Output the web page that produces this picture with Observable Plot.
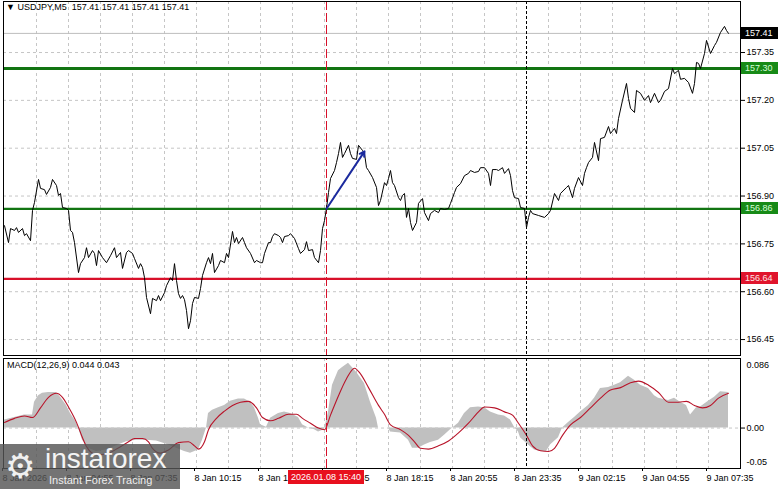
<!DOCTYPE html>
<html><head><meta charset="utf-8">
<script src="https://cdn.jsdelivr.net/npm/d3@7"></script>
<script src="https://cdn.jsdelivr.net/npm/@observablehq/plot@0.6"></script>
<style>
body{margin:0;background:#fff;}
#wrap{position:relative;width:781px;height:489px;overflow:hidden;background:#fff;font-family:"Liberation Sans",Arial,sans-serif;}
#wrap svg{position:absolute;left:0;}
.hdr{position:absolute;font-size:9px;color:#000;white-space:pre;}
#wm{position:absolute;left:0;top:444px;width:180px;height:45px;background:rgba(85,85,85,0.82);color:#fff;}
#wm .gear{position:absolute;left:5px;top:2px;font-family:"DejaVu Sans";font-size:34px;line-height:40px;color:#f0f0f0;}
#wm .big{position:absolute;left:45px;top:0px;font-size:28px;line-height:30px;color:#f4f4f4;}
#wm .small{position:absolute;left:49px;top:30px;font-size:11px;line-height:13px;color:#eee;}
</style></head>
<body>
<div id="wrap">
  <div id="wm"><span class="gear">⚙</span><span class="big">instaforex</span><span class="small">Instant Forex Tracing</span></div>
</div>
<script>
// ---------- data ----------
const symbolTitle = "USDJPY,M5";
const lastQuote = [157.41, 157.41, 157.41, 157.41];
const macdTitle = "MACD(12,26,9)";
const macdLast = [0.044, 0.043];

// bar index: 5-minute bars, bar 0 = 8 Jan 02:15
const priceBar = [0,2,3,5,6,7,9,10,11,13,14,15,17,18,20,21,23,24,26,27,28,29,31,32,33,34,35,37,38,40,41,42,44,45,46,47,49,51,53,55,56,58,59,61,62,64,65,67,68,69,70,71,73,74,76,77,78,80,81,83,84,85,86,87,88,89,90,91,92,93,94,95,97,98,99,101,102,103,104,105,107,108,110,111,112,114,115,116,117,119,120,121,123,125,126,128,129,130,132,133,134,135,137,138,139,140,142,143,145,147,148,150,151,152,154,155,157,158,159,160,161,162,163,165,166,167,168,169,170,172,173,174,176,177,179,180,181,182,184,186,187,188,190,191,192,193,194,195,197,198,199,200,201,202,203,204,206,207,209,210,212,213,215,217,218,220,222,223,225,226,228,230,232,233,235,237,238,240,242,243,244,246,247,249,250,252,253,254,255,257,258,260,261,262,263,264,267,270,272,273,275,277,278,281,282,284,285,287,289,290,291,292,294,295,297,298,300,302,303,305,306,307,309,311,312,313,315,316,318,320,322,323,325,327,328,330,332,334,335,337,338,340,342,344,345,346,347,348,350,351,353,355,356,358,360,361,362];
const priceClose = [156.807,156.754,156.798,156.792,156.801,156.786,156.798,156.776,156.782,156.760,156.855,156.880,156.952,156.924,156.920,156.905,156.927,156.952,156.933,156.902,156.908,156.864,156.861,156.855,156.792,156.786,156.754,156.660,156.688,156.707,156.738,156.707,156.729,156.720,156.682,156.729,156.707,156.691,156.713,156.738,156.707,156.723,156.673,156.723,156.729,156.720,156.704,156.673,156.688,156.676,156.644,156.582,156.531,156.579,156.572,156.588,156.572,156.597,156.619,156.644,156.635,156.688,156.635,156.594,156.579,156.588,156.575,156.541,156.484,156.509,156.563,156.582,156.579,156.610,156.651,156.691,156.707,156.688,156.720,156.660,156.682,156.698,156.691,156.720,156.707,156.789,156.754,156.770,156.751,156.770,156.754,156.738,156.720,156.691,156.698,156.691,156.691,156.720,156.754,156.754,156.773,156.782,156.776,156.770,156.754,156.773,156.776,156.782,156.767,156.735,156.720,156.732,156.757,156.729,156.732,156.707,156.691,156.729,156.798,156.823,156.862,156.911,156.955,156.980,157.005,157.033,157.068,157.021,157.033,157.059,157.033,157.018,157.015,157.059,157.043,157.033,156.989,156.980,156.958,156.927,156.870,156.886,156.942,156.933,156.955,156.980,156.942,156.933,156.895,156.886,156.902,156.908,156.833,156.861,156.817,156.792,156.817,156.877,156.892,156.848,156.823,156.845,156.855,156.848,156.861,156.858,156.861,156.877,156.911,156.927,156.939,156.964,156.971,156.980,156.974,156.977,156.989,156.989,156.971,156.933,156.983,156.983,156.980,156.989,156.971,156.986,156.964,156.917,156.895,156.892,156.864,156.861,156.801,156.833,156.855,156.845,156.839,156.833,156.845,156.855,156.908,156.886,156.908,156.927,156.933,156.895,156.924,156.958,156.933,156.971,156.989,157.005,157.021,157.068,157.011,157.080,157.084,157.118,157.096,157.112,157.096,157.143,157.200,157.253,157.206,157.175,157.162,157.231,157.222,157.200,157.215,157.193,157.222,157.193,157.200,157.228,157.237,157.300,157.284,157.294,157.266,157.269,157.256,157.222,157.253,157.319,157.316,157.300,157.347,157.388,157.347,157.372,157.382,157.413,157.432,157.419,157.410];

const macdBar = [0,5,10,14,15,17,19,22,26,28,31,33,36,37,39,42,46,51,56,61,66,71,76,81,86,90,93,97,99,101,102,104,107,110,113,117,120,123,125,127,128,131,133,137,140,143,147,149,152,155,157,160,162,164,167,169,172,176,180,183,186,187,192,193,198,202,204,207,210,213,217,220,223,227,230,233,237,240,243,247,250,253,255,257,258,262,265,268,271,273,277,279,282,285,288,292,295,298,302,305,308,312,315,318,322,325,327,332,335,338,341,343,346,348,352,355,358,362];
const macdMain = [0.010,0.013,0.016,0.016,0.032,0.040,0.043,0.044,0.044,0.038,0.028,0.018,0.007,0,-0.015,-0.025,-0.029,-0.027,-0.022,-0.017,-0.015,-0.015,-0.016,-0.020,-0.025,-0.029,-0.031,-0.027,-0.015,0,0.018,0.022,0.025,0.028,0.033,0.036,0.036,0.032,0.025,0.012,0.004,0.001,0.012,0.018,0.020,0.018,0.013,0.004,0,-0.002,-0.005,-0.002,0.020,0.053,0.071,0.075,0.080,0.069,0.055,0.032,0.012,0,0,-0.005,-0.006,-0.015,-0.025,-0.025,-0.021,-0.018,-0.015,-0.009,-0.002,0.006,0.018,0.025,0.026,0.025,0.020,0.016,0.015,0.010,0.001,-0.005,-0.012,-0.021,-0.027,-0.029,-0.029,-0.021,-0.012,0,0.007,0.013,0.020,0.028,0.037,0.049,0.050,0.053,0.056,0.064,0.059,0.053,0.049,0.040,0.037,0.034,0.037,0.032,0.028,0.016,0.025,0.026,0.033,0.038,0.045,0.044];

const signalBar = [0,5,10,14,18,22,26,29,32,36,39,41,46,51,56,62,65,69,72,74,78,82,87,92,95,97,100,102,106,110,114,118,122,126,129,133,137,142,146,149,153,157,160,163,167,171,175,178,182,187,190,193,198,202,205,208,212,217,222,227,232,237,240,245,250,254,257,261,264,268,272,275,279,283,288,293,298,303,308,313,317,322,327,332,337,341,345,349,353,357,362];
const signalLine = [0.007,0.012,0.015,0.013,0.025,0.038,0.043,0.038,0.026,0.007,-0.012,-0.023,-0.033,-0.032,-0.026,-0.017,-0.013,-0.013,-0.017,-0.025,-0.031,-0.027,-0.018,-0.017,-0.022,-0.026,-0.017,-0.002,0.012,0.021,0.028,0.032,0.033,0.025,0.013,0.009,0.012,0.017,0.017,0.012,0.006,0,-0.002,0.016,0.040,0.061,0.074,0.067,0.050,0.028,0.017,0.004,-0.002,-0.009,-0.017,-0.025,-0.026,-0.022,-0.016,-0.006,0.006,0.020,0.026,0.025,0.020,0.016,0.006,-0.009,-0.022,-0.028,-0.029,-0.025,-0.009,0.004,0.013,0.025,0.037,0.047,0.050,0.056,0.058,0.053,0.044,0.032,0.032,0.033,0.028,0.025,0.028,0.037,0.043];

const xTickBars = [0,32,64,96,128,160,192,224,256,288,320,352];
const xTickLabels = ["8 Jan 2026","8 Jan 04:55","8 Jan 07:35","8 Jan 10:15","8 Jan 12:55","8 Jan 15:35","8 Jan 18:15","8 Jan 20:55","8 Jan 23:35","9 Jan 02:15","9 Jan 04:55","9 Jan 07:35"];
const gridBars = [16,32,48,64,80,96,112,128,144,160,176,192,208,224,240,256,272,288,304,320,336,352];
const priceTicks = [156.45,156.60,156.75,156.90,157.05,157.20,157.35];
const macdTicks = [0.086, 0.00, -0.05];

const currentPrice = 157.41;
const levelPrices = [157.30, 156.86, 156.64];
const levelKinds = ["buy", "buy", "sell"];
const entryBar = 161;            // 8 Jan 15:40
const entryLabel = "2026.01.08 15:40";
const dayBar = 261;              // 9 Jan 00:00
const signalArrowBar = [161, 180];
const signalArrowPrice = [156.86, 157.04];

// ---------- styles ----------
const GREEN = "#127412", RED = "#d8102a", GRID = "#c6c6c6";
const kindColor = {buy: GREEN, sell: RED};
const tagBg = {buy: "#178a17", sell: "#e0142c"};
const FONT = "Liberation Sans, Arial, sans-serif";
const W = 781, ML = 3, MR = 41;
const xDomain = [-0.5, 368];

const wrap = document.getElementById("wrap");

const tagMark = (tags) => (index, scales, values, dims) => {
  const g = d3.create("svg:g").attr("font-size", 9).attr("font-family", FONT).attr("text-anchor", "start");
  const x0 = dims.width - dims.marginRight + 1;
  for (const t of tags) {
    const y = Math.round(scales.y(t.value));
    g.append("rect").attr("x", x0).attr("y", y - 6).attr("width", 37).attr("height", 12).attr("fill", t.bg);
    g.append("text").attr("x", x0 + 4).attr("y", y).attr("dy", "0.36em").attr("text-anchor", "start").attr("fill", t.fg).text(t.label);
  }
  return g.node();
};

const tags = [
  {value: currentPrice, label: currentPrice.toFixed(2), bg: "#000", fg: "#fff"},
  ...levelPrices.map((p, i) => ({value: p, label: p.toFixed(2), bg: tagBg[levelKinds[i]], fg: levelKinds[i] === "buy" ? "#d8ffd8" : "#ffe4e4"}))
];

const priceData = priceBar.map((b, i) => ({bar: b, close: priceClose[i]}));

const main = Plot.plot({
  width: W, height: 357,
  marginLeft: ML, marginRight: MR, marginTop: 1, marginBottom: 2,
  style: {fontFamily: FONT, fontSize: "9px", background: "transparent", overflow: "visible"},
  x: {domain: xDomain, axis: null},
  y: {domain: [156.40, 157.510], axis: null},
  marks: [
    Plot.ruleX(gridBars, {stroke: GRID, strokeDasharray: "3,3"}),
    Plot.ruleY(priceTicks, {stroke: GRID, strokeDasharray: "3,3"}),
    Plot.ruleY([currentPrice], {stroke: "#bdbdbd"}),
    Plot.ruleY([levelPrices[0]], {stroke: kindColor[levelKinds[0]], strokeWidth: 3}),
    Plot.ruleY([levelPrices[1]], {stroke: kindColor[levelKinds[1]], strokeWidth: 2.2}),
    Plot.ruleY([levelPrices[2]], {stroke: kindColor[levelKinds[2]], strokeWidth: 2.2}),
    Plot.ruleX([entryBar], {stroke: RED, strokeDasharray: "9,3"}),
    Plot.ruleX([dayBar], {stroke: "#000", strokeDasharray: "3,2"}),
    Plot.line(priceData, {x: "bar", y: "close", stroke: "#000", strokeWidth: 1}),
    Plot.arrow([0], {x1: () => signalArrowBar[0], y1: () => signalArrowPrice[0], x2: () => signalArrowBar[1], y2: () => signalArrowPrice[1], stroke: "#1b2a9e", strokeWidth: 2, headLength: 4}),
    Plot.frame({stroke: "#000"}),
    Plot.axisY(priceTicks, {anchor: "right", tickSize: 4, tickPadding: 2, tickFormat: d => d.toFixed(2), label: null}),
    tagMark(tags)
  ]
});
main.style.top = "0px";
wrap.appendChild(main);

const macdData = macdBar.map((b, i) => ({bar: b, v: macdMain[i]}));
const sigData = signalBar.map((b, i) => ({bar: b, v: signalLine[i]}));

const entryTag = (index, scales, values, dims) => {
  const g = d3.create("svg:g").attr("font-size", 9).attr("font-family", FONT);
  const cx = Math.round(scales.x(entryBar));
  const yb = dims.height - dims.marginBottom + 2;
  g.append("rect").attr("x", cx - 38).attr("y", yb).attr("width", 76).attr("height", 14).attr("fill", "#e8101e");
  g.append("text").attr("x", cx).attr("y", yb + 7).attr("dy", "0.36em").attr("text-anchor", "middle").attr("fill", "#fff").text(entryLabel);
  return g.node();
};

const macd = Plot.plot({
  width: W, height: 133,
  marginLeft: ML, marginRight: MR, marginTop: 2, marginBottom: 21,
  style: {fontFamily: FONT, fontSize: "9px", background: "transparent", overflow: "visible"},
  x: {domain: xDomain, axis: null},
  y: {domain: [-0.05, 0.086], axis: null},
  marks: [
    Plot.ruleX(gridBars, {stroke: GRID, strokeDasharray: "3,3"}),
    Plot.areaY(macdData, {x: "bar", y: "v", fill: "#c0c0c0"}),
    Plot.ruleY([0], {stroke: GRID, strokeDasharray: "3,3"}),
    Plot.line(sigData, {x: "bar", y: "v", stroke: "#b8142a", strokeWidth: 1.1, curve: "monotone-x"}),
    Plot.ruleX([entryBar], {stroke: RED, strokeDasharray: "9,3", y1: -0.05, y2: 0.086}),
    Plot.ruleX([dayBar], {stroke: "#000", strokeDasharray: "3,2"}),
    Plot.frame({stroke: "#000"}),
    Plot.axisY([macdTicks[0]], {anchor: "right", tickSize: 0, tickPadding: 6, dy: 7, tickFormat: d => d.toFixed(3), label: null}),
    Plot.axisY([macdTicks[1]], {anchor: "right", tickSize: 4, tickPadding: 2, tickFormat: d => d.toFixed(2), label: null}),
    Plot.axisY([macdTicks[2]], {anchor: "right", tickSize: 0, tickPadding: 6, dy: -6, tickFormat: d => d.toFixed(2), label: null}),
    Plot.axisX(xTickBars, {anchor: "bottom", tickSize: 3, tickPadding: 3, textAnchor: "start", dx: -2, tickFormat: d => xTickLabels[xTickBars.indexOf(d)], label: null}),
    entryTag
  ]
});
macd.style.top = "356px";
wrap.appendChild(macd);

// headers
const h1 = document.createElement("div");
h1.className = "hdr"; h1.style.left = "6px"; h1.style.top = "2px";
h1.textContent = "▼ " + symbolTitle + "  " + lastQuote.map(d => d.toFixed(2)).join(" ");
wrap.appendChild(h1);
const h2 = document.createElement("div");
h2.className = "hdr"; h2.style.left = "7px"; h2.style.top = "360px";
h2.textContent = macdTitle + " " + macdLast.map(d => d.toFixed(3)).join(" ");
wrap.appendChild(h2);
wrap.appendChild(document.getElementById("wm"));
</script>
</body></html>
